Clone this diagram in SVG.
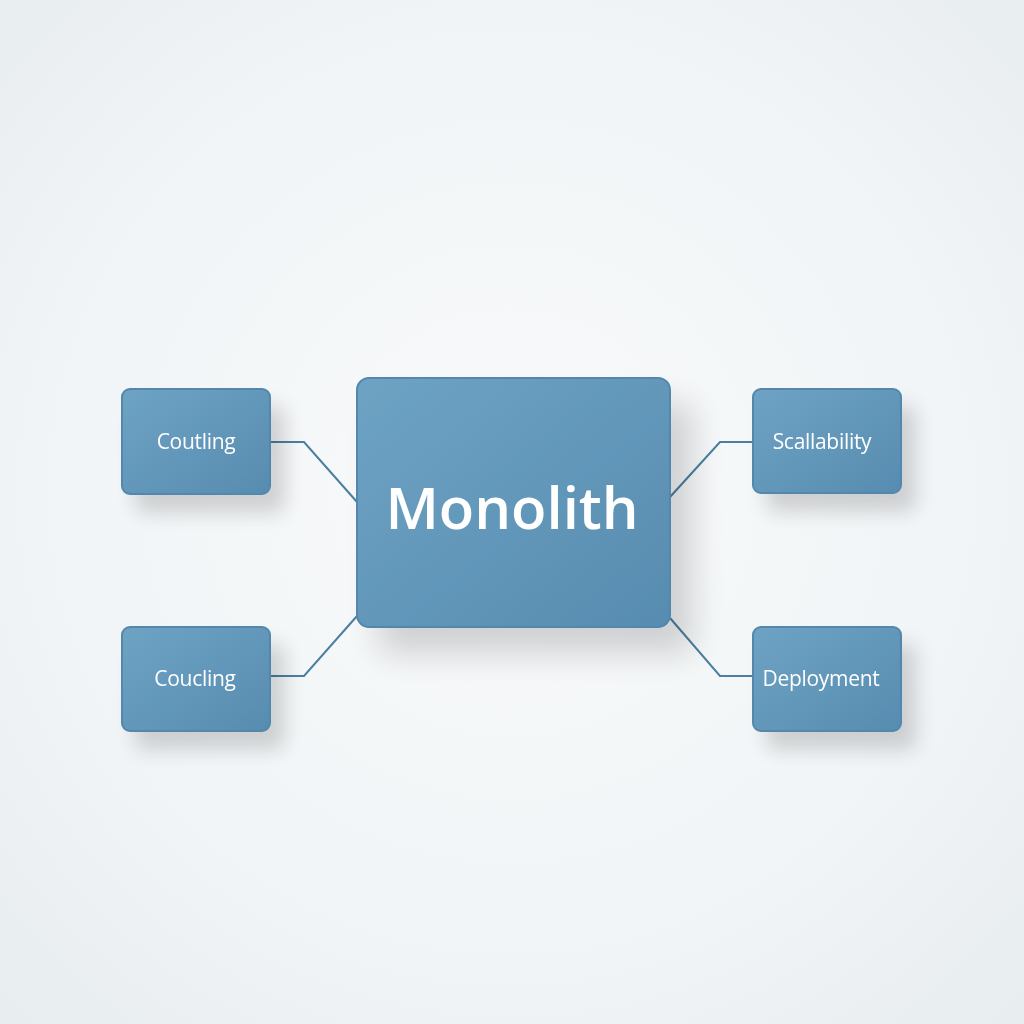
<svg xmlns="http://www.w3.org/2000/svg" width="1024" height="1024" viewBox="0 0 1024 1024">
<defs>
<radialGradient id="bg" cx="50%" cy="48%" r="70%">
<stop offset="0" stop-color="#f8fafb"/>
<stop offset="0.6" stop-color="#f2f5f7"/>
<stop offset="1" stop-color="#e8edf0"/>
</radialGradient>
<linearGradient id="box" x1="0" y1="0" x2="1" y2="1">
<stop offset="0" stop-color="#6ea3c4"/>
<stop offset="1" stop-color="#578cb0"/>
</linearGradient>
<filter id="sh" x="-30%" y="-30%" width="180%" height="180%">
<feGaussianBlur in="SourceAlpha" stdDeviation="10"/>
<feOffset dx="14" dy="18" result="b"/>
<feComponentTransfer><feFuncA type="linear" slope="0.16"/></feComponentTransfer>
<feMerge><feMergeNode/><feMergeNode in="SourceGraphic"/></feMerge>
</filter>
<filter id="shBig" x="-30%" y="-30%" width="180%" height="180%">
<feGaussianBlur in="SourceAlpha" stdDeviation="16"/>
<feOffset dx="22" dy="26" result="b"/>
<feComponentTransfer><feFuncA type="linear" slope="0.16"/></feComponentTransfer>
<feMerge><feMergeNode/><feMergeNode in="SourceGraphic"/></feMerge>
</filter>
</defs>
<style>
.node rect{fill:url(#box);stroke:#5288ac;stroke-width:2}
.lbl{font-family:"Open Sans","Liberation Sans",sans-serif;font-size:21px;fill:#ffffff;text-anchor:middle;dominant-baseline:central;letter-spacing:-0.3px}
.big{font-family:"Open Sans","Liberation Sans",sans-serif;font-size:58px;font-weight:600;fill:#ffffff;text-anchor:middle;dominant-baseline:central}
.conn path{fill:none;stroke:#4b7fa0;stroke-width:2}
</style>
<rect width="1024" height="1024" fill="url(#bg)"/>
<g class="conn" id="connectors">
<path d="M270 442 H304 L357 502"/>
<path d="M270 676 H304 L357 616"/>
<path d="M753 442 H720 L670 497"/>
<path d="M753 676 H720 L670 618"/>
</g>
<g class="node" id="monolith" filter="url(#shBig)">
<rect x="357" y="378" width="313" height="249" rx="12"/>
<text class="big" x="512" y="506">Monolith</text>
</g>
<g class="node" id="coutling" filter="url(#sh)">
<rect x="122" y="389" width="148" height="105" rx="8"/>
<text class="lbl" x="196" y="441">Coutling</text>
</g>
<g class="node" id="coucling" filter="url(#sh)">
<rect x="122" y="627" width="148" height="104" rx="8"/>
<text class="lbl" x="195" y="678">Coucling</text>
</g>
<g class="node" id="scallability" filter="url(#sh)">
<rect x="753" y="389" width="148" height="104" rx="8"/>
<text class="lbl" x="822" y="441">Scallability</text>
</g>
<g class="node" id="deployment" filter="url(#sh)">
<rect x="753" y="627" width="148" height="104" rx="8"/>
<text class="lbl" x="821" y="678">Deployment</text>
</g>
</svg>
